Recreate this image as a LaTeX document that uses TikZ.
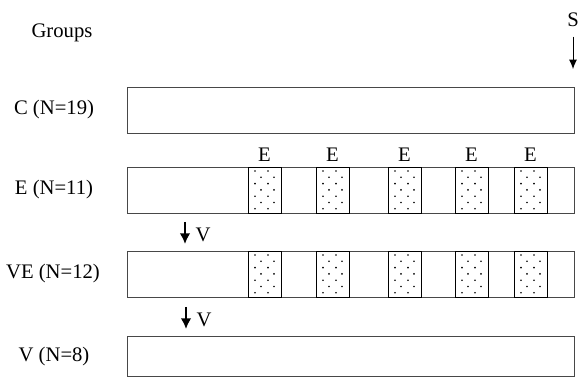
\documentclass[tikz,border=0pt]{standalone}
\usepackage{fontspec}
\setmainfont{Liberation Serif}
\usetikzlibrary{arrows.meta}

\tikzstyle{lbl} = [inner sep=0pt, font=\fontsize{15.5}{18}\selectfont]
\tikzstyle{bar} = [draw=black!72, line width=1.1pt, anchor=north west, inner sep=0pt, minimum width=335.25pt, minimum height=34.5pt]
\tikzstyle{ebox} = [draw=black, line width=0.7pt, anchor=north west, inner sep=0pt, minimum width=24.75pt, minimum height=34.5pt]
\tikzstyle{sarw} = [-{Latex[length=7pt,width=6pt]}, line width=0.7pt]
\tikzstyle{varw} = [-{Latex[length=8pt,width=8pt]}, line width=1.5pt]

\begin{document}
\begin{tikzpicture}[x=0.75pt,y=-0.75pt]
\useasboundingbox (0,0) rectangle (578,377);

% group names
\node[lbl] (groups) at (62,33) {Groups};
\node[lbl] (lC) at (54,110) {C (N=19)};
\node[lbl] (lE) at (54,190) {E (N=11)};
\node[lbl] (lVE) at (53,274) {VE (N=12)};
\node[lbl] (lV) at (54,357) {V (N=8)};

% bars
\node[bar] (barC) at (127,87) {};
\node[bar] (barE) at (127,167) {};
\node[bar] (barVE) at (127,251) {};
\node[bar, minimum height=30pt] (barV) at (127,336) {};

% sessions E
\foreach \x [count=\i] in {248,316,388,455,514} {
    \node[ebox] (e\i) at (\x,167) {};
    \node[ebox] (ve\i) at (\x,251) {};
    \node[lbl] (le\i) at ({\x+16.5},155) {E};
    \foreach \r in {0,...,6}
        \foreach \c in {0,1} {
            \fill ({\x+7+6*mod(\r,2)+13*\c},{171+6.3*\r}) circle (0.7pt);
            \fill ({\x+7+6*mod(\r,2)+13*\c},{255+6.3*\r}) circle (0.7pt);
        }
}

% S
\node[lbl] (s) at (573,20) {S};
\coordinate (sEnd) at (573,69);
\draw[sarw, shorten <=7pt] (s) -- (sEnd);

% V
\coordinate (v1a) at (185,222);
\coordinate (v1b) at (185,244);
\draw[varw] (v1a) -- (v1b);
\node[lbl] (v1) at (203,235) {V};

\coordinate (v2a) at (186,307);
\coordinate (v2b) at (186,329);
\draw[varw] (v2a) -- (v2b);
\node[lbl] (v2) at (204,320) {V};

\end{tikzpicture}
\end{document}
